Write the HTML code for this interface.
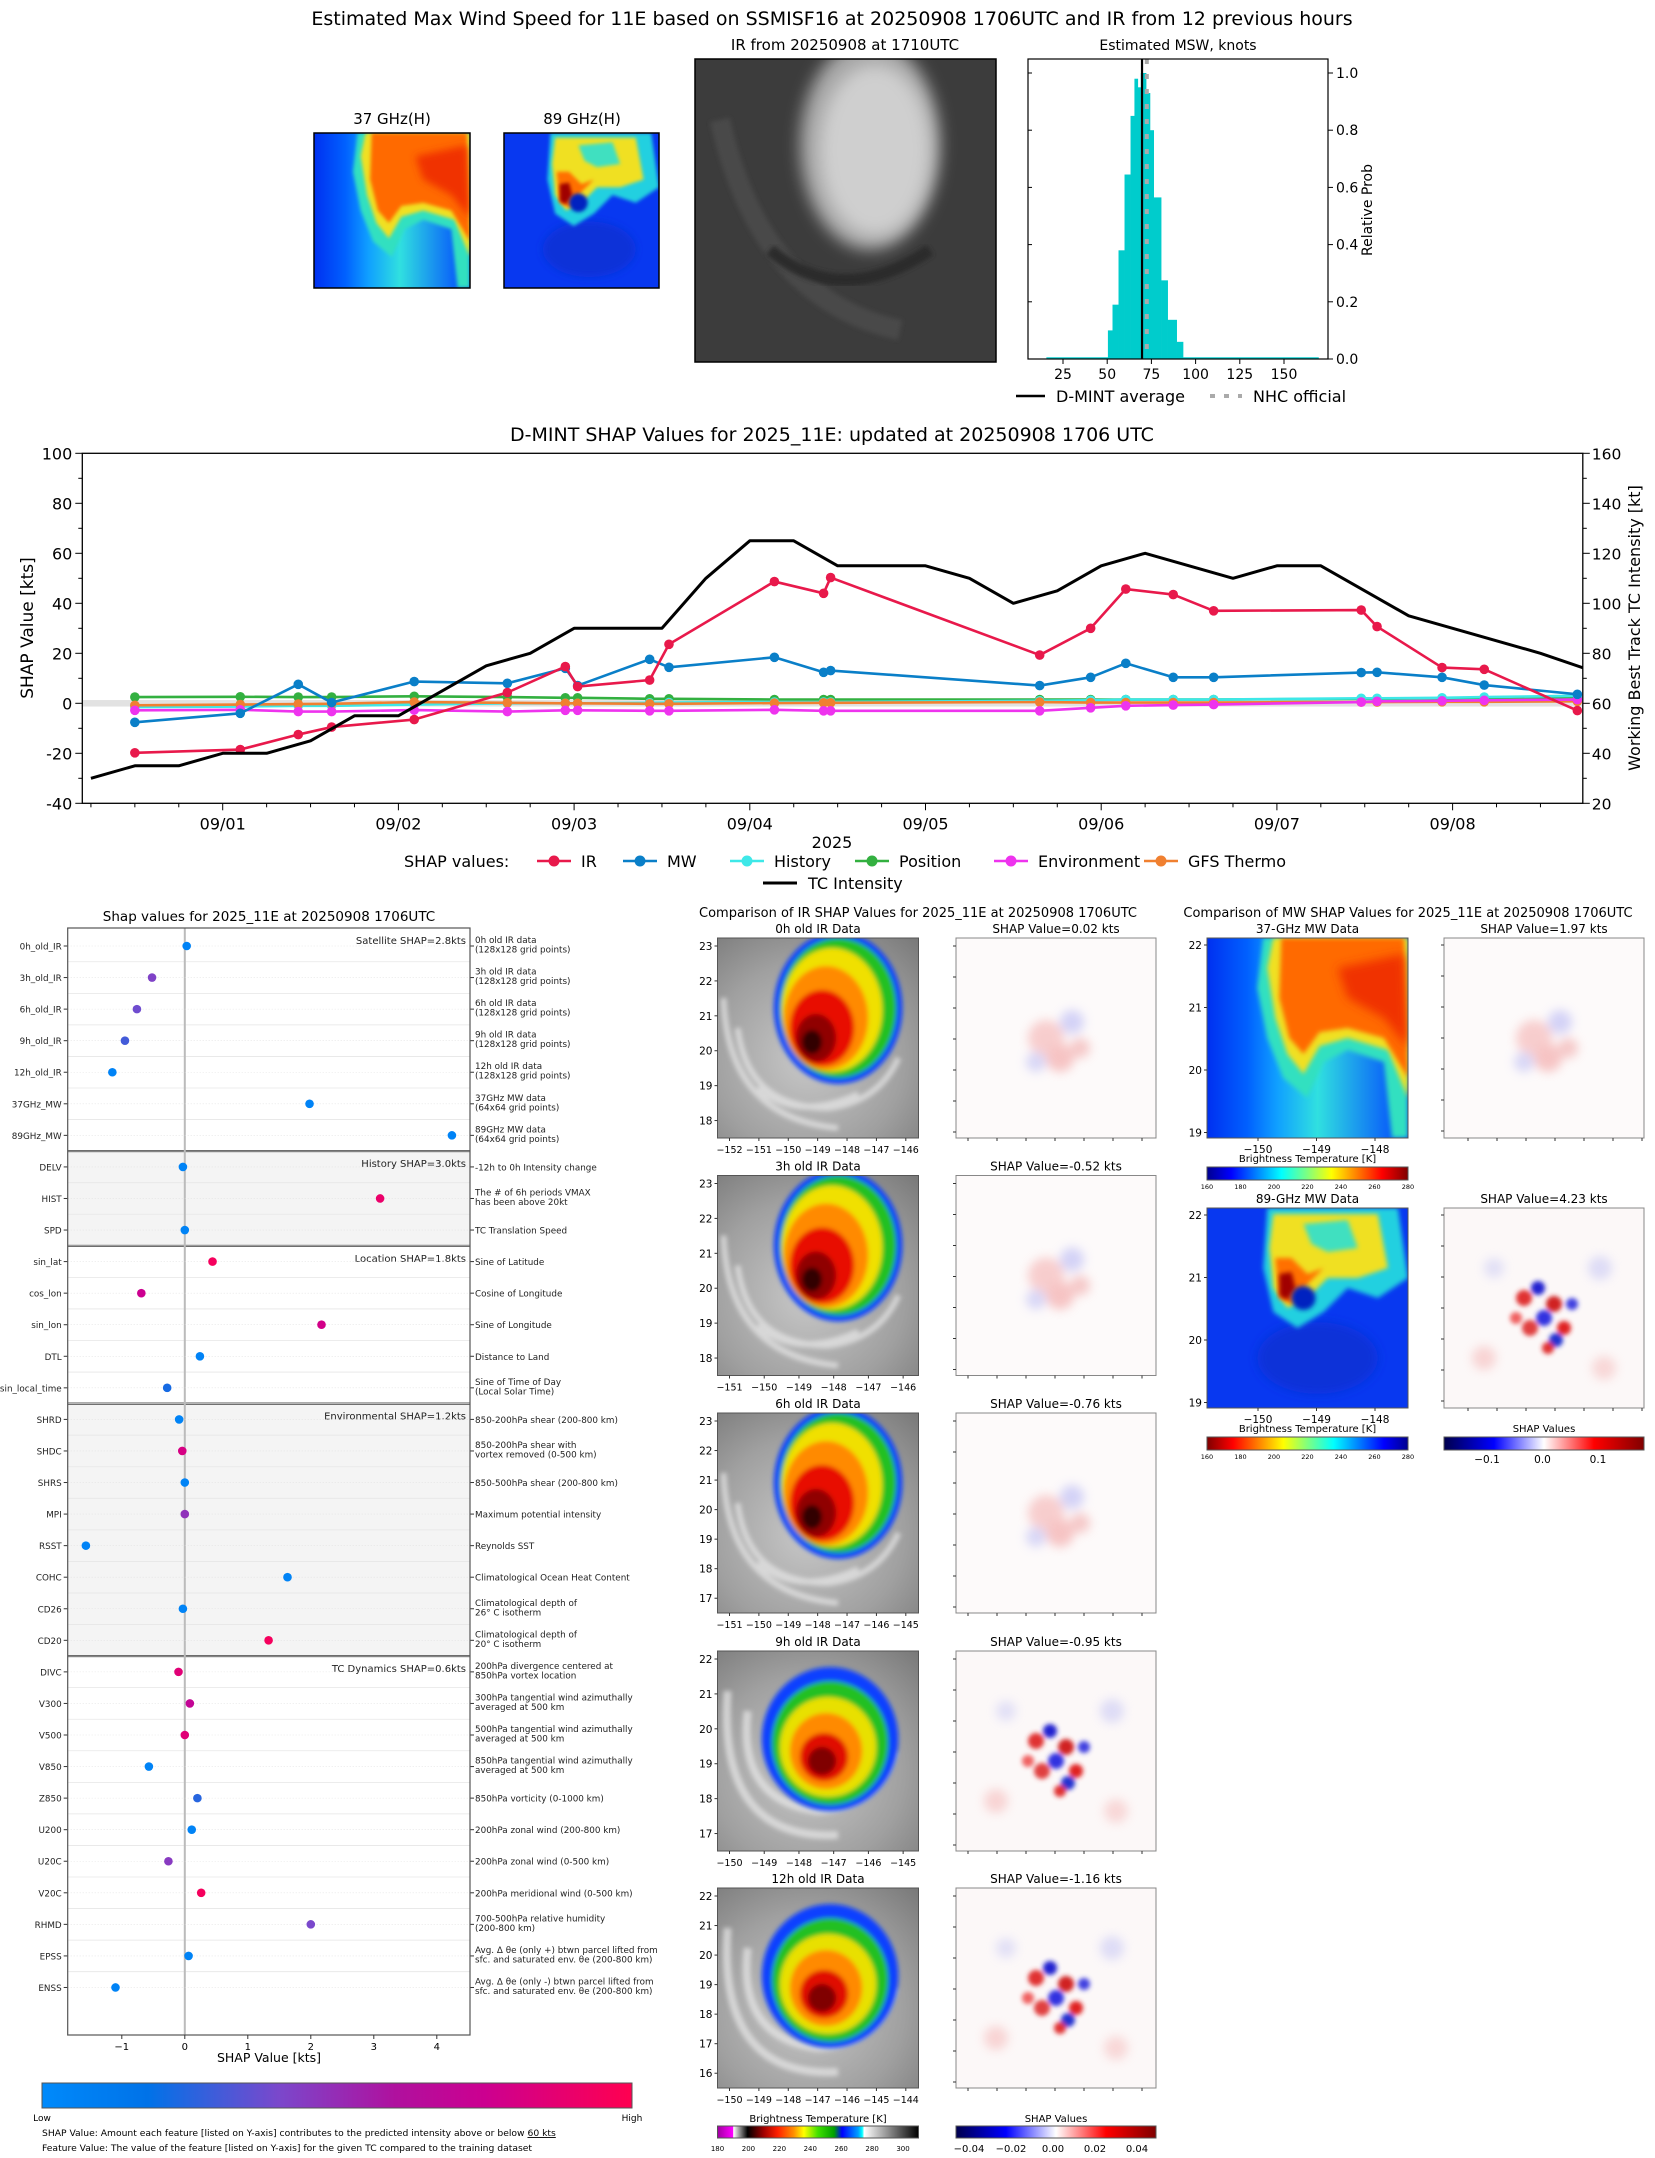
<!DOCTYPE html>
<html><head><meta charset="utf-8"><title>D-MINT 11E</title>
<style>
html,body{margin:0;padding:0;background:#fff;}
svg{display:block;font-family:"DejaVu Sans","Liberation Sans",sans-serif;}
</style></head>
<body>
<svg id="fig" xmlns="http://www.w3.org/2000/svg" width="1655" height="2158" viewBox="0 0 1655 2158">
<defs>
<filter id="bl1" x="-20%" y="-20%" width="140%" height="140%"><feGaussianBlur stdDeviation="1.2"/></filter>
<filter id="bl2" x="-20%" y="-20%" width="140%" height="140%"><feGaussianBlur stdDeviation="2.5"/></filter>
<filter id="bl4" x="-30%" y="-30%" width="160%" height="160%"><feGaussianBlur stdDeviation="8"/></filter>
<linearGradient id="jet" x1="0" x2="1" y1="0" y2="0">
<stop offset="0" stop-color="#00008f"/><stop offset="0.12" stop-color="#0000ff"/><stop offset="0.37" stop-color="#00ffff"/><stop offset="0.5" stop-color="#7fff7f"/><stop offset="0.62" stop-color="#ffff00"/><stop offset="0.87" stop-color="#ff0000"/><stop offset="1" stop-color="#7f0000"/></linearGradient>
<linearGradient id="jetr" x1="1" x2="0" y1="0" y2="0">
<stop offset="0" stop-color="#00008f"/><stop offset="0.12" stop-color="#0000ff"/><stop offset="0.37" stop-color="#00ffff"/><stop offset="0.5" stop-color="#7fff7f"/><stop offset="0.62" stop-color="#ffff00"/><stop offset="0.87" stop-color="#ff0000"/><stop offset="1" stop-color="#7f0000"/></linearGradient>
<linearGradient id="seis" x1="0" x2="1"><stop offset="0" stop-color="#00004c"/><stop offset="0.25" stop-color="#0000ff"/><stop offset="0.5" stop-color="#ffffff"/><stop offset="0.75" stop-color="#ff0000"/><stop offset="1" stop-color="#800000"/></linearGradient>
<linearGradient id="irc" x1="0" x2="1">
<stop offset="0" stop-color="#a000a0"/><stop offset="0.076" stop-color="#ff00ff"/><stop offset="0.08" stop-color="#ffffff"/><stop offset="0.15" stop-color="#000000"/><stop offset="0.23" stop-color="#a00000"/><stop offset="0.3" stop-color="#ff2000"/><stop offset="0.38" stop-color="#ff9000"/><stop offset="0.43" stop-color="#ffff00"/><stop offset="0.5" stop-color="#40e000"/><stop offset="0.58" stop-color="#00a000"/><stop offset="0.62" stop-color="#0000ff"/><stop offset="0.7" stop-color="#00a0ff"/><stop offset="0.72" stop-color="#00ffff"/><stop offset="0.73" stop-color="#ffffff"/><stop offset="1" stop-color="#000000"/></linearGradient>
<linearGradient id="lowhigh" x1="0" x2="1"><stop offset="0" stop-color="#008afb"/><stop offset="0.18" stop-color="#0072e8"/><stop offset="0.4" stop-color="#7a48cc"/><stop offset="0.6" stop-color="#b0109e"/><stop offset="0.75" stop-color="#cc0090"/><stop offset="1" stop-color="#ff0050"/></linearGradient>
<linearGradient id="g37" x1="0" x2="1" y1="0" y2="0"><stop offset="0" stop-color="#0030f0"/><stop offset="0.2" stop-color="#0060ff"/><stop offset="0.35" stop-color="#10a0ff"/><stop offset="0.55" stop-color="#30e0e0"/><stop offset="1" stop-color="#0040ff"/></linearGradient>
<radialGradient id="gray1" cx="0.45" cy="0.6" r="0.8"><stop offset="0" stop-color="#c8c8c8"/><stop offset="0.6" stop-color="#a0a0a0"/><stop offset="1" stop-color="#7a7a7a"/></radialGradient>
<symbol id="irA" viewBox="0 0 100 100" preserveAspectRatio="none">
<rect width="100" height="100" fill="url(#gray1)"/>
<g fill="none" stroke="#e8e8e8" stroke-width="3" opacity="0.7" filter="url(#bl1)">
<path d="M10 45 Q15 85 55 85 Q80 82 90 60"/><path d="M3 30 Q5 90 60 95"/><path d="M20 75 Q40 92 70 78"/></g>
<g filter="url(#bl1)">
<ellipse cx="60" cy="35" rx="32" ry="38" fill="#1040ff"/>
<ellipse cx="60" cy="35" rx="29" ry="35" fill="#20c020"/>
<ellipse cx="57" cy="36" rx="25" ry="31" fill="#f0e000"/>
<ellipse cx="54" cy="40" rx="21" ry="26" fill="#ff8a00"/>
<ellipse cx="52" cy="45" rx="16" ry="19" fill="#e81000"/>
<ellipse cx="49" cy="50" rx="10" ry="12" fill="#900000"/>
<ellipse cx="47" cy="52" rx="5" ry="6" fill="#300000"/></g>
</symbol>
<symbol id="irB" viewBox="0 0 100 100" preserveAspectRatio="none">
<rect width="100" height="100" fill="url(#gray1)"/>
<g fill="none" stroke="#e8e8e8" stroke-width="4" opacity="0.7" filter="url(#bl1)">
<path d="M15 30 Q10 75 50 80 Q80 78 88 50"/><path d="M5 20 Q0 95 60 92"/></g>
<g filter="url(#bl1)">
<ellipse cx="56" cy="44" rx="34" ry="36" fill="#1040ff"/>
<ellipse cx="56" cy="46" rx="29" ry="31" fill="#20c020"/>
<ellipse cx="55" cy="48" rx="24" ry="25" fill="#e8e000"/>
<ellipse cx="54" cy="50" rx="18" ry="19" fill="#ff8a00"/>
<ellipse cx="53" cy="53" rx="12" ry="12" fill="#e01000"/>
<ellipse cx="52" cy="55" rx="7" ry="7" fill="#800000"/></g>
</symbol>
<symbol id="shapA" viewBox="0 0 100 100" preserveAspectRatio="none">
<rect width="100" height="100" fill="#fdfafa"/>
<g filter="url(#bl2)" opacity="0.6">
<circle cx="45" cy="50" r="9" fill="#f4b0b0"/><circle cx="58" cy="42" r="6" fill="#b8b8f4"/><circle cx="52" cy="60" r="7" fill="#f2a0a0"/><circle cx="40" cy="62" r="5" fill="#c0c0f4"/><circle cx="62" cy="55" r="5" fill="#f0a8a8"/></g>
</symbol>
<symbol id="shapB" viewBox="0 0 100 100" preserveAspectRatio="none">
<rect width="100" height="100" fill="#fcf8f8"/>
<g filter="url(#bl1)">
<circle cx="40" cy="45" r="4" fill="#e03030"/><circle cx="47" cy="40" r="3.5" fill="#2020d0"/><circle cx="55" cy="48" r="4" fill="#d02020"/><circle cx="50" cy="55" r="4" fill="#3030e0"/><circle cx="60" cy="60" r="3.5" fill="#e02020"/><circle cx="43" cy="60" r="4" fill="#e04040"/><circle cx="56" cy="66" r="3.5" fill="#2030d0"/><circle cx="64" cy="48" r="3" fill="#4040e0"/><circle cx="36" cy="55" r="3" fill="#f06060"/><circle cx="52" cy="70" r="3" fill="#e03030"/></g>
<g filter="url(#bl2)" opacity="0.5"><circle cx="20" cy="75" r="6" fill="#f4b0b0"/><circle cx="78" cy="30" r="6" fill="#c0c0f4"/><circle cx="25" cy="30" r="5" fill="#c8c8f4"/><circle cx="80" cy="80" r="6" fill="#f4b8b8"/></g>
</symbol>
<symbol id="m37" viewBox="0 0 100 100" preserveAspectRatio="none">
<rect width="100" height="100" fill="url(#g37)"/>
<path d="M28 0 L100 0 L100 100 L92 100 L88 62 L70 56 L58 62 L50 80 L38 70 L30 50 L25 25 Z" fill="#30e0c0" filter="url(#bl1)"/>
<path d="M33 0 L100 0 L100 80 L90 56 L70 50 L56 54 L48 68 L40 58 L34 40 L30 15 Z" fill="#f0e020" filter="url(#bl1)"/>
<path d="M37 0 L98 0 L100 70 L88 50 L70 45 L56 47 L48 58 L41 50 L36 30 Z" fill="#ff6a00" filter="url(#bl1)"/>
<path d="M65 15 L98 8 L100 55 L88 40 L70 30 Z" fill="#f03000" filter="url(#bl2)"/>
</symbol>
<symbol id="m89" viewBox="0 0 100 100" preserveAspectRatio="none">
<rect width="100" height="100" fill="#0838f0"/>
<ellipse cx="55" cy="75" rx="30" ry="18" fill="#0830d8" filter="url(#bl2)"/>
<path d="M30 0 L95 0 L100 35 L85 45 L70 40 L58 52 L45 60 L33 52 L28 30 Z" fill="#20d0e0" filter="url(#bl1)"/>
<path d="M33 3 L85 3 L90 30 L75 35 L60 35 L50 45 L40 50 L33 40 L31 20 Z" fill="#f0e020" filter="url(#bl1)"/>
<path d="M48 8 L70 6 L75 20 L60 22 L52 18 Z" fill="#40e0c0" filter="url(#bl1)"/>
<path d="M34 25 L42 25 L50 33 L58 30 L50 38 L42 48 L36 45 Z" fill="#ff7000" filter="url(#bl1)"/>
<path d="M36 33 L42 32 L44 40 L40 46 L36 44 Z" fill="#a00000" filter="url(#bl1)"/>
<ellipse cx="48" cy="45" rx="6" ry="6" fill="#0020c0" filter="url(#bl1)"/>
</symbol>
</defs>

<text x="832" y="25" font-size="19" text-anchor="middle">Estimated Max Wind Speed for 11E based on SSMISF16 at 20250908 1706UTC and IR from 12 previous hours</text>
<text x="392" y="124" font-size="15" text-anchor="middle">37 GHz(H)</text>
<use href="#m37" x="314" y="133" width="156" height="155"/>
<rect x="314" y="133" width="156" height="155" fill="none" stroke="#000" stroke-width="1.5"/>
<text x="582" y="124" font-size="15" text-anchor="middle">89 GHz(H)</text>
<use href="#m89" x="504" y="133" width="155" height="155"/>
<rect x="504" y="133" width="155" height="155" fill="none" stroke="#000" stroke-width="1.5"/>
<text x="845" y="50" font-size="15" text-anchor="middle">IR from 20250908 at 1710UTC</text>
<g>
<clipPath id="irtopclip"><rect x="695" y="59" width="301" height="303"/></clipPath>
<g clip-path="url(#irtopclip)">
<rect x="695" y="59" width="301" height="303" fill="#3c3c3c"/>
<path d="M720 120 Q760 300 900 330" fill="none" stroke="#4a4a4a" stroke-width="20" filter="url(#bl2)"/>
<ellipse cx="870" cy="145" rx="70" ry="105" fill="#a8a8a8" filter="url(#bl4)"/>
<ellipse cx="875" cy="150" rx="55" ry="85" fill="#cfcfcf" filter="url(#bl4)"/>
<path d="M770 250 Q840 310 930 250" fill="none" stroke="#2c2c2c" stroke-width="12" filter="url(#bl2)"/>
</g>
</g>
<rect x="695" y="59" width="301" height="303" fill="none" stroke="#000" stroke-width="1.5"/>

<g id="histo"></g>
<g id="timeseries"></g>
<g id="beeswarm"></g>
<g id="ircomp">
<text x="918" y="917" font-size="13" text-anchor="middle">Comparison of IR SHAP Values for 2025_11E at 20250908 1706UTC</text>
</g>
<g id="mwcomp">
<text x="1408" y="917" font-size="13" text-anchor="middle">Comparison of MW SHAP Values for 2025_11E at 20250908 1706UTC</text>
</g>
</svg>

<script>
// ---------- DATA ----------
const histLeft  = [15.6, 50.4, 53.0, 56.4, 59.8, 63.2, 65.4, 67.3, 69.0, 72.0, 74.2, 76.3, 80.5, 84.2, 89.3, 92.9];
const histRight = [50.4, 53.0, 56.4, 59.8, 63.2, 65.4, 67.3, 69.0, 72.0, 74.2, 76.3, 80.5, 84.2, 89.3, 92.9, 169.5];
const histProb  = [0.006, 0.10, 0.19, 0.38, 0.645, 0.85, 0.98, 0.95, 1.0, 0.93, 0.80, 0.565, 0.275, 0.137, 0.06, 0.006];
const histXTicks = [25, 50, 75, 100, 125, 150];
const histYTicks = ['0.0','0.2','0.4','0.6','0.8','1.0'];
const dmintMean = 69.7;
const nhcOfficial = 72.4;

const dayLabels = ['09/01','09/02','09/03','09/04','09/05','09/06','09/07','09/08'];
const leftTicks = [100, 80, 60, 40, 20, 0, -20, -40];
const rightTicks = [160, 140, 120, 100, 80, 60, 40, 20];
const tcTimes = [-0.75,-0.5,-0.25,0,0.25,0.5,0.75,1.0,1.25,1.5,1.75,2.0,2.25,2.5,2.75,3.0,3.25,3.5,3.75,4.0,4.25,4.5,4.75,5.0,5.25,5.5,5.75,6.0,6.25,6.5,6.75,7.0,7.25,7.5,7.75];
const tcIntensity = [30,35,35,40,40,45,55,55,65,75,80,90,90,90,110,125,125,115,115,115,110,100,105,115,120,115,110,115,115,105,95,90,85,80,74];
const shapTimes = [-0.5,0.1,0.43,0.62,1.09,1.62,1.95,2.02,2.43,2.54,3.14,3.42,3.46,4.65,4.94,5.14,5.41,5.64,6.48,6.57,6.94,7.18,7.71];
const irShap   = [-19.8,-18.5,-12.5,-9.5,-6.5,4.3,14.7,6.7,9.3,23.6,48.7,44,50.3,19.3,30,45.7,43.5,37,37.3,30.7,14.3,13.6,-2.9];
const mwShap   = [-7.6,-4,7.6,0.3,8.7,8,14,7.1,17.6,14.4,18.4,12.4,13.1,7.1,10.4,16,10.4,10.4,12.3,12.4,10.4,7.3,3.6];
const histShap = [-1.5,-1.3,-1,-1,-0.5,0,0,0,0.2,0.3,0.5,0.5,0.5,1,1.2,1.5,1.5,1.5,2,2,2.2,2.5,3];
const posShap  = [2.5,2.6,2.5,2.5,2.8,2.5,2.2,2.2,1.8,1.8,1.5,1.5,1.5,1.5,1.5,1.5,1.5,1.5,1.8,1.8,2,2.2,2.5];
const envShap  = [-2.8,-2.6,-3.3,-3.3,-2.7,-3.3,-2.8,-2.8,-3,-3,-2.6,-3,-3,-3,-1.8,-1,-0.7,-0.5,0.5,0.8,1,1.2,1.5];
const gfsShap  = [-0.8,-0.5,-0.3,-0.2,0.5,0.2,0,0,-0.2,-0.2,0.1,0.2,0.2,0.5,0.3,0.3,0.3,0.3,0.5,0.5,0.6,0.6,0.8];
const seriesNames = ['IR','MW','History','Position','Environment','GFS Thermo'];

const featNames = ['0h_old_IR','3h_old_IR','6h_old_IR','9h_old_IR','12h_old_IR','37GHz_MW','89GHz_MW','DELV','HIST','SPD','sin_lat','cos_lon','sin_lon','DTL','sin_local_time','SHRD','SHDC','SHRS','MPI','RSST','COHC','CD26','CD20','DIVC','V300','V500','V850','Z850','U200','U20C','V20C','RHMD','EPSS','ENSS'];
const featShap = [0.03,-0.52,-0.76,-0.95,-1.15,1.98,4.24,-0.03,3.1,0.0,0.44,-0.69,2.17,0.24,-0.28,-0.09,-0.04,0.0,0.0,-1.57,1.63,-0.03,1.33,-0.1,0.08,0.0,-0.57,0.2,0.11,-0.26,0.26,2.0,0.06,-1.1];
const featLevel = [0.05,0.42,0.38,0.3,0.05,0.05,0.05,0.05,0.9,0.05,0.95,0.75,0.78,0.05,0.22,0.05,0.8,0.05,0.48,0.05,0.05,0.05,0.95,0.85,0.7,0.85,0.05,0.25,0.05,0.45,0.95,0.4,0.05,0.05];
const featDesc = [['0h old IR data','(128x128 grid points)'],['3h old IR data','(128x128 grid points)'],['6h old IR data','(128x128 grid points)'],['9h old IR data','(128x128 grid points)'],['12h old IR data','(128x128 grid points)'],['37GHz MW data','(64x64 grid points)'],['89GHz MW data','(64x64 grid points)'],['-12h to 0h Intensity change'],['The # of 6h periods VMAX','has been above 20kt'],['TC Translation Speed'],['Sine of Latitude'],['Cosine of Longitude'],['Sine of Longitude'],['Distance to Land'],['Sine of Time of Day','(Local Solar Time)'],['850-200hPa shear (200-800 km)'],['850-200hPa shear with','vortex removed (0-500 km)'],['850-500hPa shear (200-800 km)'],['Maximum potential intensity'],['Reynolds SST'],['Climatological Ocean Heat Content'],['Climatological depth of','26° C isotherm'],['Climatological depth of','20° C isotherm'],['200hPa divergence centered at','850hPa vortex location'],['300hPa tangential wind azimuthally','averaged at 500 km'],['500hPa tangential wind azimuthally','averaged at 500 km'],['850hPa tangential wind azimuthally','averaged at 500 km'],['850hPa vorticity (0-1000 km)'],['200hPa zonal wind (200-800 km)'],['200hPa zonal wind (0-500 km)'],['200hPa meridional wind (0-500 km)'],['700-500hPa relative humidity','(200-800 km)'],['Avg. Δ θe (only +) btwn parcel lifted from','sfc. and saturated env. θe (200-800 km)'],['Avg. Δ θe (only -) btwn parcel lifted from','sfc. and saturated env. θe (200-800 km)']];
const groupNames = ['Satellite SHAP=2.8kts','History SHAP=3.0kts','Location SHAP=1.8kts','Environmental SHAP=1.2kts','TC Dynamics SHAP=0.6kts'];
const groupSizes = [7,3,5,8,11];
const shapXTicks = [-1,0,1,2,3,4];

const irTitles = ['0h old IR Data','3h old IR Data','6h old IR Data','9h old IR Data','12h old IR Data'];
const irShapVals = ['0.02','-0.52','-0.76','-0.95','-1.16'];
const irLons = [[-152,-151,-150,-149,-148,-147,-146],[-151,-150,-149,-148,-147,-146],[-151,-150,-149,-148,-147,-146,-145],[-150,-149,-148,-147,-146,-145],[-150,-149,-148,-147,-146,-145,-144]];
const irLats = [[23,22,21,20,19,18],[23,22,21,20,19,18],[23,22,21,20,19,18,17],[22,21,20,19,18,17],[22,21,20,19,18,17,16]];

// ---------- HELPERS ----------
const NS = 'http://www.w3.org/2000/svg';
function mk(tag, attrs, parent) {
  const e = document.createElementNS(NS, tag);
  for (const k in attrs) e.setAttribute(k, attrs[k]);
  parent.appendChild(e);
  return e;
}
function txt(str, attrs, parent) {
  const e = mk('text', attrs, parent);
  e.textContent = str;
  return e;
}

// ---------- HISTOGRAM ----------
(function(){
  const g = document.getElementById('histo');
  const L=1028, R=1328, T=59, B=359;
  const xk = k => 1063 + (k-25)*1.768;
  const yp = p => B - 286*p;
  const title = txt('Estimated MSW, knots', {x:1178, y:50, 'font-size':14, 'text-anchor':'middle'}, g);
  
  
  for (let i=0;i<histProb.length;i++){
    const r = mk('rect', {x:xk(histLeft[i]), y:yp(histProb[i]), width:xk(histRight[i])-xk(histLeft[i])+0.3, height:B-yp(histProb[i]), fill:'#00cccc'}, g);
    
    
  }
  const ml = mk('line', {x1:xk(dmintMean), x2:xk(dmintMean), y1:T, y2:B, stroke:'#000', 'stroke-width':2.2}, g);
  
  
  const nl = mk('line', {x1:xk(nhcOfficial), x2:xk(nhcOfficial), y1:T, y2:B, stroke:'#aaa', 'stroke-width':4, 'stroke-dasharray':'5,10'}, g);
  
  
  const fr = mk('rect', {x:L, y:T, width:R-L, height:B-T, fill:'none', stroke:'#000', 'stroke-width':1.2}, g);
  
  
  histXTicks.forEach(k=>{
    mk('line',{x1:xk(k),x2:xk(k),y1:B,y2:B+5,stroke:'#000'},g);
    const t = txt(String(k), {x:xk(k), y:B+20, 'font-size':14, 'text-anchor':'middle'}, g);
    
    
  });
  histYTicks.forEach(s=>{
    const p = parseFloat(s);
    mk('line',{x1:R,x2:R+5,y1:yp(p),y2:yp(p),stroke:'#000'},g);
    mk('line',{x1:L,x2:L+4,y1:yp(p),y2:yp(p),stroke:'#000'},g);
    const t = txt(s, {x:R+8, y:yp(p)+5, 'font-size':14}, g);
    
    
  });
  const yl = txt('Relative Prob', {x:0,y:0,'font-size':14,'text-anchor':'middle',transform:'translate(1372,210) rotate(-90)'}, g);
  
  
  const lg = mk('g', {}, g);
  
  
  mk('line',{x1:1016,x2:1045,y1:396,y2:396,stroke:'#000','stroke-width':2.5},lg);
  txt('D-MINT average',{x:1056,y:402,'font-size':16},lg);
  mk('line',{x1:1210,x2:1242,y1:396,y2:396,stroke:'#aaa','stroke-width':4,'stroke-dasharray':'5,9'},lg);
  txt('NHC official',{x:1253,y:402,'font-size':16},lg);
})();

// ---------- TIME SERIES ----------
(function(){
  const g = document.getElementById('timeseries');
  const L=82.3, R=1582.8, T=453.3, B=803.3;
  const xd = d => 222.7 + 175.7*d;
  const yl = v => B - (v+40)*2.5;
  const yr = I => B - (I-20)*2.5;
  const tt = txt('D-MINT SHAP Values for 2025_11E: updated at 20250908 1706 UTC', {x:832, y:441, 'font-size':19, 'text-anchor':'middle'}, g);
  
  
  const cp = mk('clipPath',{id:'tsclip'},g);
  mk('rect',{x:L,y:T,width:R-L,height:B-T},cp);
  const band = mk('rect',{x:L,y:yl(1.3),width:R-L,height:yl(-1.3)-yl(1.3),fill:'#e2e2e2'},g);
  
  
  const plot = mk('g',{'clip-path':'url(#tsclip)'},g);
  const colors = ['#e8194b','#0a7fc8','#3ee8e8','#33b040','#ee33ee','#f08030'];
  const data = [irShap, mwShap, histShap, posShap, envShap, gfsShap];
  const order = [3,2,5,4,1,0];
  order.forEach(si=>{
    const vals = data[si];
    const pts = shapTimes.map((t,i)=>xd(t)+','+yl(vals[i])).join(' ');
    const pl = mk('polyline',{points:pts,fill:'none',stroke:colors[si],'stroke-width':2.6,'stroke-linejoin':'round'},plot);
    
    
    shapTimes.forEach((t,i)=>{
      const c = mk('circle',{cx:xd(t),cy:yl(vals[i]),r:4.8,fill:colors[si]},plot);
      
      
    });
  });
  const tcp = tcTimes.map((t,i)=>xd(t)+','+yr(tcIntensity[i])).join(' ');
  const tcl = mk('polyline',{points:tcp,fill:'none',stroke:'#000','stroke-width':3,'stroke-linejoin':'round'},plot);
  
  
  const fr = mk('rect',{x:L,y:T,width:R-L,height:B-T,fill:'none',stroke:'#000','stroke-width':1.3},g);
  
  
  leftTicks.forEach(v=>{
    mk('line',{x1:L-7,x2:L,y1:yl(v),y2:yl(v),stroke:'#000'},g);
    const t = txt(String(v),{x:L-10,y:yl(v)+6,'font-size':16,'text-anchor':'end'},g);
    
    
    if (v>-40) mk('line',{x1:L-4,x2:L,y1:yl(v-10),y2:yl(v-10),stroke:'#000'},g);
  });
  rightTicks.forEach(I=>{
    mk('line',{x1:R,x2:R+7,y1:yr(I),y2:yr(I),stroke:'#000'},g);
    const t = txt(String(I),{x:R+9,y:yr(I)+6,'font-size':15.5},g);
    
    
    if (I>20) mk('line',{x1:R,x2:R+4,y1:yr(I-10),y2:yr(I-10),stroke:'#000'},g);
  });
  for (let q=-3;q<=31;q++){
    const d=q/4; const x=xd(d);
    if (x<L||x>R) continue;
    mk('line',{x1:x,x2:x,y1:B,y2:B+(q%4===0?7:4),stroke:'#000'},g);
  }
  dayLabels.forEach((s,i)=>{
    const t = txt(s,{x:xd(i),y:B+26,'font-size':16,'text-anchor':'middle'},g);
    
    
  });
  const xl = txt('2025',{x:832,y:848,'font-size':16,'text-anchor':'middle'},g);
  
  
  const yla = txt('SHAP Value [kts]',{x:0,y:0,'font-size':17,'text-anchor':'middle',transform:'translate(33,628) rotate(-90)'},g);
  
  
  const yra = txt('Working Best Track TC Intensity [kt]',{x:0,y:0,'font-size':16,'text-anchor':'middle',transform:'translate(1640,628) rotate(-90)'},g);
  
  
  const lg = mk('g',{},g);
  
  
  txt('SHAP values:',{x:404,y:867,'font-size':16},lg);
  const lc = [554,640,747,872,1011,1161];
  seriesNames.forEach((n,i)=>{
    const e = mk('g',{},lg);
    
    
    mk('line',{x1:lc[i]-17,x2:lc[i]+17,y1:861,y2:861,stroke:colors[i],'stroke-width':2.6},e);
    mk('circle',{cx:lc[i],cy:861,r:5.5,fill:colors[i]},e);
    txt(n,{x:lc[i]+27,y:867,'font-size':16},e);
  });
  const te = mk('g',{},lg);
  
  
  mk('line',{x1:763,x2:797,y1:883,y2:883,stroke:'#000','stroke-width':3},te);
  txt('TC Intensity',{x:808,y:889,'font-size':16},te);
})();

// ---------- FEATURE SHAP ----------
(function(){
  const g = document.getElementById('beeswarm');
  const L=67.7, R=470, T=928, B=2035;
  const x = v => 184.8 + 63*v;
  const yr = i => 946 + 31.56*i;
  const t = txt('Shap values for 2025_11E at 20250908 1706UTC',{x:269,y:921,'font-size':13.5,'text-anchor':'middle'},g);
  
  
  let start=0;
  const shades=['#ffffff','#f4f4f4','#ffffff','#f4f4f4','#ffffff'];
  groupSizes.forEach((n,gi)=>{
    const top = gi===0?T:yr(start)-15.78;
    const bot = gi===groupSizes.length-1?B:yr(start+n)-15.78;
    const r = mk('rect',{x:L,y:top,width:R-L,height:bot-top,fill:shades[gi]},g);
    
    
    const lbl = txt(groupNames[gi],{x:R-4,y:top+16,'font-size':10,'text-anchor':'end',fill:'#222'},g);
    
    
    if (gi>0) mk('line',{x1:L,x2:R,y1:top,y2:top,stroke:'#222','stroke-width':2},g);
    start+=n;
  });
  for (let i=1;i<featNames.length;i++){
    mk('line',{x1:L,x2:R,y1:yr(i)-15.78,y2:yr(i)-15.78,stroke:'#e6e6e6','stroke-width':0.8},g);
  }
  mk('line',{x1:x(0),x2:x(0),y1:T,y2:B,stroke:'#bbb','stroke-width':2},g);
  const stops=[[0,[0,138,251]],[0.18,[0,114,232]],[0.4,[122,72,204]],[0.6,[176,16,158]],[0.75,[204,0,144]],[1,[255,0,80]]];
  function col(l){
    for(let k=1;k<stops.length;k++){ if(l<=stops[k][0]){const a=stops[k-1],b=stops[k];const f=(l-a[0])/(b[0]-a[0]);return 'rgb('+a[1].map((c,j)=>Math.round(c+(b[1][j]-c)*f)).join(',')+')';}}
    return 'rgb(255,0,80)';
  }
  featNames.forEach((n,i)=>{
    const y=yr(i);
    mk('line',{x1:L,x2:R,y1:y,y2:y,stroke:'#ddd','stroke-width':0.6,'stroke-dasharray':'1,2'},g);
    mk('line',{x1:L-4,x2:L,y1:y,y2:y,stroke:'#333'},g);
    mk('line',{x1:R,x2:R+4,y1:y,y2:y,stroke:'#333'},g);
    const lab = txt(n,{x:L-6,y:y+3.5,'font-size':8.8,'text-anchor':'end',fill:'#222'},g);
    
    
    const d = featDesc[i];
    const dy = d.length===2? y-3 : y+3.5;
    d.forEach((s,k)=>{
      const dt = txt(s,{x:R+5,y:dy+k*9.5,'font-size':8.8,fill:'#222'},g);
      
      
    });
    const c = mk('circle',{cx:x(featShap[i]),cy:y,r:4.3,fill:col(featLevel[i])},g);
    
    
  });
  const fr = mk('rect',{x:L,y:T,width:R-L,height:B-T,fill:'none',stroke:'#555','stroke-width':1.2},g);
  
  
  shapXTicks.forEach(v=>{
    mk('line',{x1:x(v),x2:x(v),y1:B,y2:B+4,stroke:'#333'},g);
    const tk = txt(v<0?'−'+Math.abs(v):String(v),{x:x(v),y:B+15,'font-size':10,'text-anchor':'middle'},g);
    
    
  });
  const xl = txt('SHAP Value [kts]',{x:269,y:2062,'font-size':12.5,'text-anchor':'middle'},g);
  
  
  const cb = mk('rect',{x:42,y:2083,width:590,height:25,fill:'url(#lowhigh)',stroke:'#555','stroke-width':1},g);
  
  
  const lo = txt('Low',{x:42,y:2121,'font-size':9,'text-anchor':'middle'},g);
  
  
  const hi = txt('High',{x:632,y:2121,'font-size':9,'text-anchor':'middle'},g);
  
  
  const f1 = txt('SHAP Value: Amount each feature [listed on Y-axis] contributes to the predicted intensity above or below ',{x:42,y:2136,'font-size':9.2},g);
  const u = mk('tspan',{'text-decoration':'underline'},f1); u.textContent='60 kts';
  
  
  const f2 = txt('Feature Value: The value of the feature [listed on Y-axis] for the given TC compared to the training dataset',{x:42,y:2151,'font-size':9.2},g);
  
  
})();

// ---------- IR COMPARISON ----------
(function(){
  const g = document.getElementById('ircomp');
  const tops=[938,1175.5,1413,1651,1888];
  const IX=717.5, IW=201, SX=956, SW=200, H=200;
  tops.forEach((y,i)=>{
    const t1 = txt(irTitles[i],{x:IX+IW/2,y:y-5,'font-size':12,'text-anchor':'middle'},g);
    
    
    const im = mk('use',{href:i<3?'#irA':'#irB',x:IX,y:y,width:IW,height:H},g);
    
    
    mk('rect',{x:IX,y:y,width:IW,height:H,fill:'none',stroke:'#555'},g);
    const lats=irLats[i], lons=irLons[i];
    const latStep = (H-8)/(lats.length-0.5), lonStep=(IW-10)/(lons.length-0.5);
    lats.forEach((v,k)=>{
      const yy=y+8+k*latStep;
      mk('line',{x1:IX-3,x2:IX,y1:yy,y2:yy,stroke:'#333'},g);
      const tk=txt(String(v),{x:IX-5,y:yy+4,'font-size':10.5,'text-anchor':'end'},g);
      
      
    });
    lons.forEach((v,k)=>{
      const xx=IX+12+k*lonStep;
      mk('line',{x1:xx,x2:xx,y1:y+H,y2:y+H+3,stroke:'#333'},g);
      const tk=txt('−'+Math.abs(v),{x:xx,y:y+H+15,'font-size':9.5,'text-anchor':'middle'},g);
      
      
    });
    const t2 = txt('SHAP Value='+irShapVals[i]+' kts',{x:SX+SW/2,y:y-5,'font-size':12,'text-anchor':'middle'},g);
    
    
    const sm = mk('use',{href:i<3?'#shapA':'#shapB',x:SX,y:y,width:SW,height:H},g);
    
    
    mk('rect',{x:SX,y:y,width:SW,height:H,fill:'none',stroke:'#888'},g);
    for(let k=0;k<7;k++){ mk('line',{x1:SX+12+k*29,x2:SX+12+k*29,y1:y+H,y2:y+H+3,stroke:'#333'},g); mk('line',{x1:SX-3,x2:SX,y1:y+8+k*31,y2:y+8+k*31,stroke:'#333'},g);}
  });
  const cbT = txt('Brightness Temperature [K]',{x:IX+IW/2,y:2122,'font-size':10,'text-anchor':'middle'},g);
  
  
  const cb = mk('rect',{x:IX,y:2126,width:IW,height:12,fill:'url(#irc)',stroke:'#555'},g);
  
  
  [180,200,220,240,260,280,300].forEach(v=>{
    const xx=IX+(v-180)/130*IW;
    const tk=txt(String(v),{x:xx,y:2151,'font-size':7,'text-anchor':'middle'},g);
    
    
  });
  const sT = txt('SHAP Values',{x:SX+SW/2,y:2122,'font-size':10,'text-anchor':'middle'},g);
  
  
  const scb = mk('rect',{x:SX,y:2126,width:SW,height:12,fill:'url(#seis)',stroke:'#555'},g);
  
  
  ['−0.04','−0.02','0.00','0.02','0.04'].forEach((s,k)=>{
    const tk=txt(s,{x:969+k*42,y:2152,'font-size':10,'text-anchor':'middle'},g);
    
    
  });
})();

// ---------- MW COMPARISON ----------
(function(){
  const g = document.getElementById('mwcomp');
  const MX=1207, MW=201, SX=1444, SW=200, H=200;
  const rows=[{y:938,title:'37-GHz MW Data',sym:'#m37',shap:'1.97',cbY:1167,grad:'url(#jet)',sm:'#shapA'},{y:1208,title:'89-GHz MW Data',sym:'#m89',shap:'4.23',cbY:1437,grad:'url(#jetr)',sm:'#shapB'}];
  rows.forEach(r=>{
    const t1=txt(r.title,{x:MX+MW/2,y:r.y-5,'font-size':12,'text-anchor':'middle'},g);
    
    
    const im=mk('use',{href:r.sym,x:MX,y:r.y,width:MW,height:H},g);
    
    
    mk('rect',{x:MX,y:r.y,width:MW,height:H,fill:'none',stroke:'#555'},g);
    [22,21,20,19].forEach((v,k)=>{
      const yy=r.y+7+k*62.5;
      mk('line',{x1:MX-3,x2:MX,y1:yy,y2:yy,stroke:'#333'},g);
      const tk=txt(String(v),{x:MX-5,y:yy+4,'font-size':10.5,'text-anchor':'end'},g);
      
      
    });
    [-150,-149,-148].forEach((v,k)=>{
      const xx=1258+k*58.5;
      mk('line',{x1:xx,x2:xx,y1:r.y+H,y2:r.y+H+3,stroke:'#333'},g);
      const tk=txt('−'+Math.abs(v),{x:xx,y:r.y+H+15,'font-size':10.5,'text-anchor':'middle'},g);
      
      
    });
    const ct=txt('Brightness Temperature [K]',{x:MX+MW/2,y:r.cbY-5,'font-size':10,'text-anchor':'middle'},g);
    
    
    const cb=mk('rect',{x:MX,y:r.cbY,width:MW,height:13,fill:r.grad,stroke:'#555'},g);
    
    
    [160,180,200,220,240,260,280].forEach((v,k)=>{
      const tk=txt(String(v),{x:MX+k*MW/6,y:r.cbY+22,'font-size':6.5,'text-anchor':'middle'},g);
      
      
    });
    const t2=txt('SHAP Value='+r.shap+' kts',{x:SX+SW/2,y:r.y-5,'font-size':12,'text-anchor':'middle'},g);
    
    
    const sm=mk('use',{href:r.sm,x:SX,y:r.y,width:SW,height:H},g);
    
    
    mk('rect',{x:SX,y:r.y,width:SW,height:H,fill:'none',stroke:'#888'},g);
    for(let k=0;k<7;k++){ mk('line',{x1:SX+24+k*29,x2:SX+24+k*29,y1:r.y+H,y2:r.y+H+3,stroke:'#333'},g); mk('line',{x1:SX-3,x2:SX,y1:r.y+7+k*31,y2:r.y+7+k*31,stroke:'#333'},g);}
  });
  const st=txt('SHAP Values',{x:SX+SW/2,y:1432,'font-size':10,'text-anchor':'middle'},g);
  
  
  const scb=mk('rect',{x:SX,y:1437,width:SW,height:13,fill:'url(#seis)',stroke:'#555'},g);
  
  
  ['−0.1','0.0','0.1'].forEach((s,k)=>{
    const tk=txt(s,{x:1487+k*55.5,y:1463,'font-size':10.5,'text-anchor':'middle'},g);
    
    
  });
})();
</script>
</body></html>
